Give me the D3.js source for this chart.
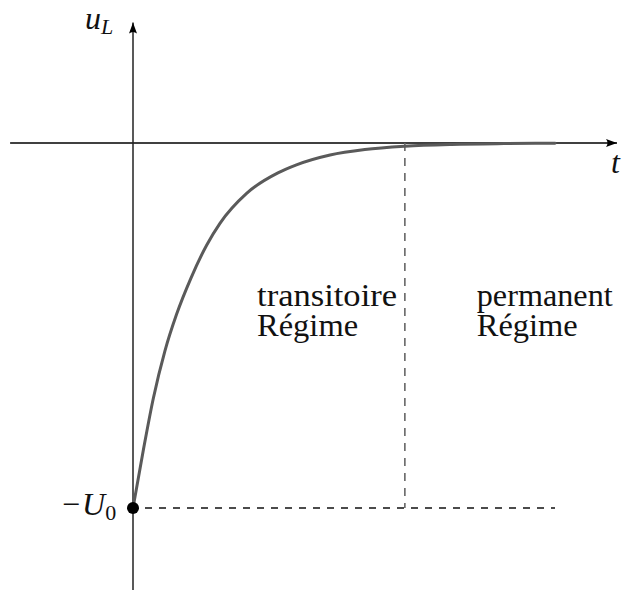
<!DOCTYPE html>
<html>
<head>
<meta charset="utf-8">
<script src="https://cdn.jsdelivr.net/npm/d3@7"></script>
<style>
  html, body { margin: 0; padding: 0; background: #fff; }
  svg { display: block; }
  text { font-family: "Liberation Serif", "DejaVu Serif", serif; fill: #111; }
</style>
</head>
<body>
<svg id="chart" width="624" height="590"></svg>
<script>
// Inductor voltage u_L(t) after switching: time in units of tau, voltage in units of U0
const tValues = [0, 0.18, 0.35, 0.55, 0.75, 1, 1.27, 1.5, 1.96, 2.5, 2.82, 3.4, 4, 4.69, 5.5, 6.4, 7.28];
const uValues = [-1, -0.84, -0.70, -0.57, -0.47, -0.37, -0.28, -0.22, -0.138, -0.082, -0.06, -0.033, -0.018, -0.009, -0.004, -0.0017, -0.0007];

// Time at which the transient is considered finished
const tSteady = 4.69;
// Axis extents (same units as the data)
const tAxis = [-2.12, 8.35];
const uAxis = [-1.225, 0.33];

// Labels
const axisLabels = { u: "u", uSub: "L", t: "t", U: "U", USub: "0" };
const regimeLabels = [
  { t: 2.14, lines: ["transitoire", "Régime"], widths: [140, 101] },
  { t: 5.93, lines: ["permanent", "Régime"], widths: [136, 101] }
];

const svg = d3.select("#chart");

const x = d3.scaleLinear().domain([0, 7.28]).range([133, 555]);
const y = d3.scaleLinear().domain([-1, 0]).range([508, 143]);

// Arrowhead marker
const defs = svg.append("defs");
defs.append("marker")
  .attr("id", "arrow")
  .attr("viewBox", "0 0 11 8")
  .attr("refX", 11).attr("refY", 4)
  .attr("markerWidth", 11).attr("markerHeight", 8)
  .attr("markerUnits", "userSpaceOnUse")
  .attr("orient", "auto")
  .append("path")
  .attr("d", "M0,0 Q3,4 0,8 L11,4 Z")
  .attr("fill", "#000");

// Horizontal t axis
svg.append("line")
  .attr("x1", x(tAxis[0])).attr("x2", x(tAxis[1]))
  .attr("y1", y(0)).attr("y2", y(0))
  .attr("stroke", "#000").attr("stroke-width", 1.6)
  .attr("marker-end", "url(#arrow)");

// Vertical u axis
svg.append("line")
  .attr("x1", x(0)).attr("x2", x(0))
  .attr("y1", y(uAxis[0])).attr("y2", y(uAxis[1]))
  .attr("stroke", "#222").attr("stroke-width", 1.5)
  .attr("marker-end", "url(#arrow)");

// Dashed reference lines
svg.append("line")
  .attr("x1", x(0)).attr("x2", x(tValues[tValues.length - 1]))
  .attr("y1", y(-1)).attr("y2", y(-1))
  .attr("stroke", "#111").attr("stroke-width", 1.3)
  .attr("stroke-dasharray", "7,7").attr("stroke-dashoffset", -12);

svg.append("line")
  .attr("x1", x(tSteady)).attr("x2", x(tSteady))
  .attr("y1", y(0)).attr("y2", y(-1))
  .attr("stroke", "#666").attr("stroke-width", 1.6)
  .attr("stroke-dasharray", "8,7");

// Response curve
const data = tValues.map((t, i) => ({ t, u: uValues[i] }));
const line = d3.line()
  .x(d => x(d.t))
  .y(d => y(d.u))
  .curve(d3.curveMonotoneX);

svg.append("path")
  .datum(data)
  .attr("d", line)
  .attr("fill", "none")
  .attr("stroke", "#5a5a5a")
  .attr("stroke-width", 3)
  .attr("stroke-linecap", "round");

// Initial value dot
svg.append("circle")
  .attr("cx", x(0)).attr("cy", y(-1))
  .attr("r", 6)
  .attr("fill", "#000");

// Axis labels
const uLab = svg.append("text")
  .attr("x", 85).attr("y", 29)
  .attr("font-size", 32).attr("font-style", "italic");
uLab.append("tspan").text(axisLabels.u);
uLab.append("tspan").attr("font-size", 22).attr("dy", 5).text(axisLabels.uSub);

svg.append("text")
  .attr("x", 611).attr("y", 173)
  .attr("font-size", 32).attr("font-style", "italic")
  .text(axisLabels.t);

const uoLab = svg.append("text")
  .attr("x", 62).attr("y", 515)
  .attr("font-size", 32);
uoLab.append("tspan").text("\u2212");
uoLab.append("tspan").attr("font-style", "italic").attr("dx", 2).text(axisLabels.U);
uoLab.append("tspan").attr("font-size", 22).attr("dy", 5).text(axisLabels.USub);

// Regime labels, one text element per line
regimeLabels.forEach(r => {
  r.lines.forEach((ln, i) => {
    svg.append("text")
      .attr("x", x(r.t))
      .attr("y", 306 + i * 30)
      .attr("font-size", 32)
      .attr("textLength", r.widths[i])
      .attr("lengthAdjust", "spacingAndGlyphs")
      .text(ln);
  });
});
</script>
</body>
</html>
